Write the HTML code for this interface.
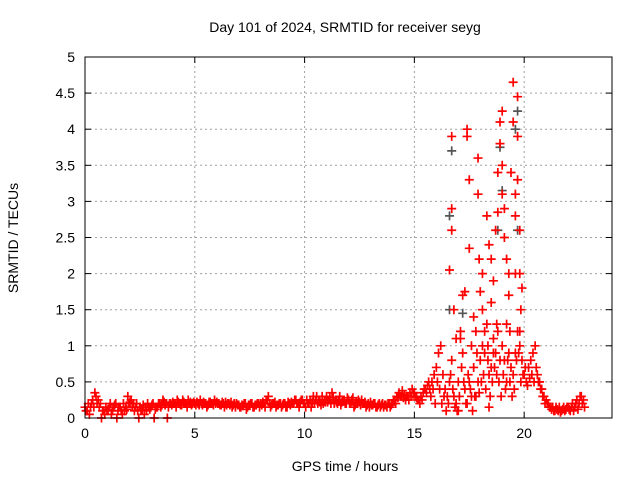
<!DOCTYPE html>
<html><head><meta charset="utf-8"><style>
body{margin:0;background:#fff}
svg{display:block;font-family:"Liberation Sans",sans-serif}
</style></head><body>
<svg id="chart" width="640" height="480">
<text x="345" y="32" text-anchor="middle" font-size="14">Day 101 of 2024, SRMTID for receiver seyg</text>
<text x="345" y="471" text-anchor="middle" font-size="14">GPS time / hours</text>
<text transform="translate(18,238) rotate(-90)" text-anchor="middle" font-size="14">SRMTID / TECUs</text>
<g id="grid"></g><g id="marks"></g><g id="axes"></g>
</svg>
<script>
const xTicks=[0,5,10,15,20];
const yTicks=[0,0.5,1,1.5,2,2.5,3,3.5,4,4.5,5];
const yTickLabels=["0","0.5","1","1.5","2","2.5","3","3.5","4","4.5","5"];
const seriesAStart=0, seriesStep=0.1;
const seriesA=[0.15,0.1,0.05,0.2,0.15,0.3,0.25,0.2,0.1,0.05,
0.1,0.15,0.05,0.15,0.2,0.1,0.15,0.05,0.1,0.12,
0.2,0.25,0.2,0.15,0.1,0.15,0.12,0.05,0.1,0.15,
0.15,0.2,0.12,0.15,0.2,0.18,0.22,0.2,0.15,0.2,
0.22,0.2,0.25,0.2,0.18,0.22,0.2,0.25,0.22,0.2,
0.2,0.22,0.18,0.2,0.22,0.2,0.18,0.22,0.2,0.25,
0.22,0.2,0.18,0.2,0.22,0.2,0.18,0.15,0.2,0.2,
0.18,0.15,0.17,0.2,0.15,0.18,0.2,0.15,0.18,0.2,
0.2,0.22,0.15,0.25,0.2,0.18,0.2,0.15,0.18,0.2,
0.18,0.2,0.15,0.2,0.22,0.2,0.25,0.2,0.22,0.25,
0.2,0.25,0.2,0.15,0.3,0.25,0.2,0.22,0.3,0.25,
0.3,0.25,0.2,0.28,0.25,0.2,0.3,0.22,0.25,0.2,
0.25,0.2,0.28,0.18,0.2,0.22,0.25,0.2,0.15,0.2,
0.22,0.18,0.2,0.15,0.2,0.18,0.15,0.18,0.2,0.15,
0.2,0.25,0.3,0.35,0.3,0.28,0.25,0.3,0.35,0.4,
0.35,0.28,0.25,0.3,0.35,0.4,0.45,0.4,0.5,0.6,
0.7,0.9,1.0,0.6,0.4,0.3,0.5,0.8,0.3,0.2,
0.5,1.1,0.9,0.4,0.2,0.5,0.3,0.7,1.2,0.5,
0.8,1.0,0.9,1.3,0.6,0.7,1.1,0.9,1.2,0.8,
1.0,0.8,1.3,0.9,0.7,0.6,0.9,1.2,1.0,0.8,
0.6,0.5,0.7,0.8,0.9,1.0,0.6,0.5,0.4,0.3,
0.25,0.2,0.15,0.15,0.1,0.12,0.15,0.1,0.15,0.12,
0.15,0.1,0.2,0.15,0.25,0.2,0.3,0.25];
const seriesBStart=0.05;
const seriesB=[0.1,0.2,0.15,0.25,0.35,0.2,0.15,0.0,0.1,0.15,
0.12,0.2,0.1,0.18,0.0,0.15,0.1,0.2,0.15,0.3,
0.22,0.15,0.1,0.2,0.0,0.12,0.18,0.15,0.2,0.12,
0.18,0.0,0.15,0.2,0.15,0.25,0.18,0.0,0.2,0.18,
0.2,0.15,0.22,0.18,0.25,0.2,0.15,0.2,0.18,0.22,
0.18,0.2,0.25,0.18,0.2,0.15,0.22,0.2,0.18,0.2,
0.2,0.18,0.22,0.15,0.18,0.2,0.22,0.18,0.15,0.18,
0.15,0.18,0.2,0.12,0.18,0.2,0.15,0.18,0.2,0.15,
0.18,0.2,0.25,0.3,0.15,0.2,0.22,0.18,0.2,0.15,
0.2,0.15,0.22,0.18,0.2,0.25,0.2,0.15,0.25,0.2,
0.15,0.2,0.25,0.22,0.2,0.3,0.25,0.18,0.2,0.22,
0.22,0.28,0.35,0.2,0.22,0.25,0.18,0.25,0.2,0.28,
0.2,0.25,0.15,0.22,0.25,0.18,0.2,0.22,0.18,0.15,
0.18,0.2,0.15,0.18,0.15,0.2,0.18,0.15,0.2,0.18,
0.25,0.2,0.28,0.3,0.38,0.32,0.3,0.25,0.3,0.35,
0.3,0.25,0.2,0.25,0.4,0.35,0.5,0.3,0.4,0.2,
0.5,0.4,0.2,0.3,0.1,0.2,0.6,0.4,0.15,0.1,
0.3,0.7,0.5,0.2,0.6,0.4,0.1,0.3,0.9,0.35,
0.5,0.6,0.4,0.8,0.3,0.5,0.7,0.6,0.5,0.3,
0.6,0.4,0.8,0.5,0.3,0.4,0.8,0.9,0.5,0.6,
0.7,0.45,0.55,0.6,0.5,0.7,0.5,0.4,0.3,0.2,
0.2,0.15,0.12,0.1,0.15,0.1,0.08,0.12,0.1,0.15,
0.12,0.15,0.1,0.2,0.12,0.3,0.2,0.15];
const spikeT=[16.6,16.7,16.7,16.7,16.8,17.1,17.2,17.3,17.4,17.4,17.5,17.5,17.6,17.9,17.9,17.95,18.0,18.1,18.1,18.3,18.4,18.5,18.5,18.6,18.7,18.8,18.8,18.9,18.9,19.0,19.0,19.0,19.1,19.1,19.2,19.3,19.3,19.4,19.5,19.5,19.6,19.6,19.6,19.7,19.7,19.7,19.8,19.8,19.9,19.8,18.2,18.6,19.2,17.8,18.4,17.0,16.9,17.7,18.35,19.85,19.35,18.75];
const spikeV=[2.05,2.6,2.9,3.9,1.5,1.2,1.7,1.75,3.9,4.0,3.3,2.35,1.0,3.6,3.1,2.2,1.75,2.0,1.5,2.8,2.4,2.2,1.6,1.9,2.6,2.85,3.4,3.8,4.1,4.25,3.5,3.1,2.9,2.5,2.2,2.0,1.7,3.4,4.65,4.1,3.1,2.8,2.0,4.45,3.9,3.3,2.6,2.0,1.8,1.2,1.2,0.9,0.5,0.3,0.15,0.1,1.1,1.4,1.0,1.5,1.2,1.3];
const grayT=[16.7,16.6,16.6,17.2,18.9,19.0,19.7,19.7,19.6,18.8];
const grayV=[3.7,2.8,1.5,1.45,3.75,3.15,4.25,2.6,4.0,2.6];

const X0=85,X1=612,Y0=418,Y1=57,XMAX=24,YMAX=5;
const xs=v=>X0+(X1-X0)*v/XMAX, ys=v=>Y0-(Y0-Y1)*v/YMAX;
const NS="http://www.w3.org/2000/svg";
function mk(t,a,p){const e=document.createElementNS(NS,t);for(const k in a)e.setAttribute(k,a[k]);p.appendChild(e);return e;}
const grid=document.getElementById('grid'),marks=document.getElementById('marks'),axes=document.getElementById('axes');
xTicks.forEach(t=>{
 const x=xs(t);
 if(t>0){const g=mk('line',{x1:x,x2:x,y1:Y0,y2:Y1,stroke:'#a0a0a0','stroke-dasharray':'2,3'},grid);
 
 }
 mk('line',{x1:x,x2:x,y1:Y0,y2:Y0-6,stroke:'#000'},axes);
 mk('line',{x1:x,x2:x,y1:Y1,y2:Y1+6,stroke:'#000'},axes);
 const l=mk('text',{x:x,y:Y0+20,'text-anchor':'middle','font-size':14},axes);l.textContent=t;
 
 
});
yTicks.forEach((t,i)=>{
 const y=ys(t);
 if(t>0&&t<YMAX){const g=mk('line',{x1:X0,x2:X1,y1:y,y2:y,stroke:'#a0a0a0','stroke-dasharray':'2,3'},grid);
 
 }
 mk('line',{x1:X0,x2:X0+6,y1:y,y2:y,stroke:'#000'},axes);
 mk('line',{x1:X1,x2:X1-6,y1:y,y2:y,stroke:'#000'},axes);
 const l=mk('text',{x:X0-10,y:y+5,'text-anchor':'end','font-size':14},axes);l.textContent=yTickLabels[i];
 
 
});
const frame=mk('rect',{x:X0,y:Y1,width:X1-X0,height:Y0-Y1,fill:'none',stroke:'#000'},axes);


function plus(t,v,c){
 const x=xs(t),y=ys(v);
 const p=mk('path',{d:`M${x-4.5} ${y}H${x+4.5}M${x} ${y-4.5}V${y+4.5}`,stroke:c,'stroke-width':1.7,fill:'none'},marks);
 
 
}
grayT.forEach((t,i)=>plus(t,grayV[i],'#555'));
seriesA.forEach((v,i)=>plus(seriesAStart+i*seriesStep,v,'#f00'));
seriesB.forEach((v,i)=>plus(seriesBStart+i*seriesStep,v,'#f00'));
spikeT.forEach((t,i)=>plus(t,spikeV[i],'#f00'));
</script>
</body></html>
